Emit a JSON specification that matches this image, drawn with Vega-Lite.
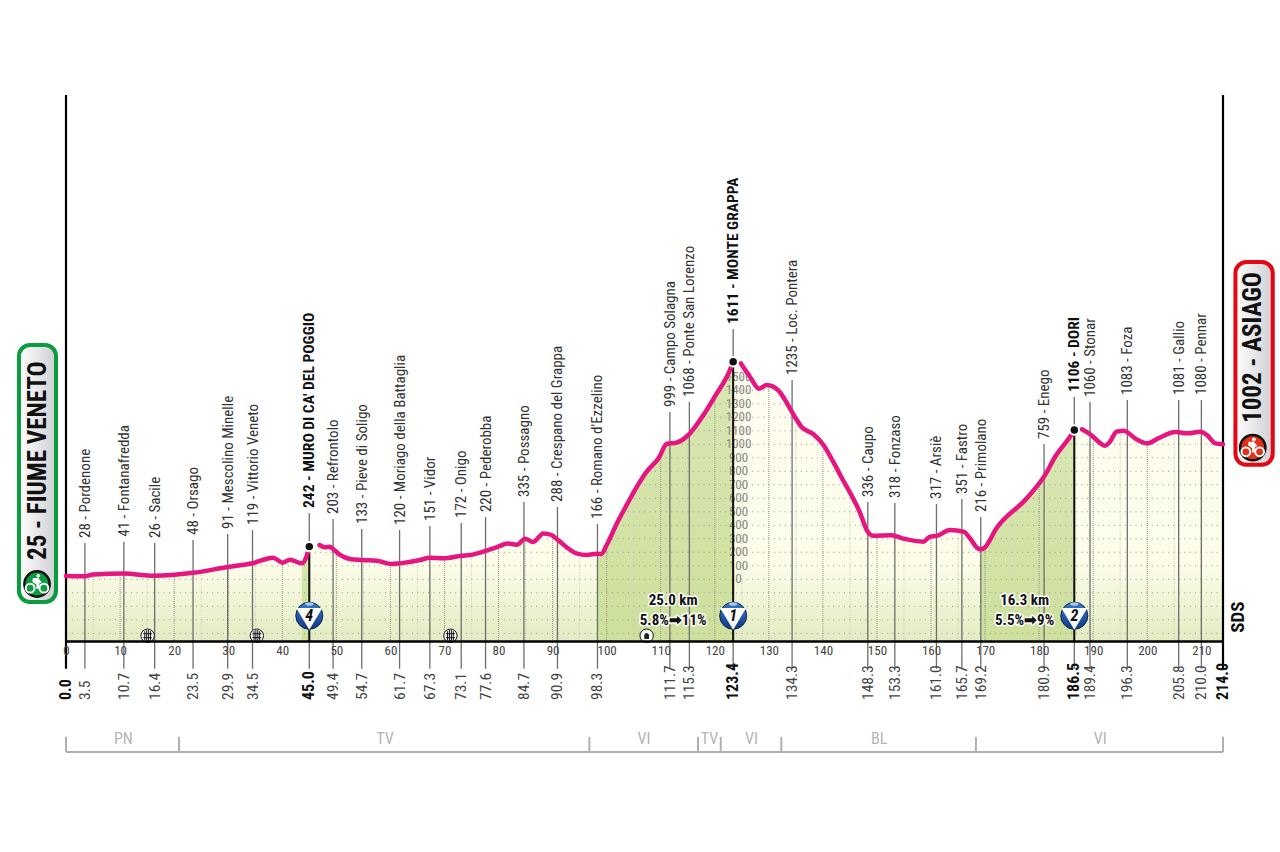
{
"$schema":"https://vega.github.io/schema/vega-lite/v6.json",
"width":1157,"height":546,
"autosize":{"type":"none"},
"padding":{"left":66,"top":95,"right":57,"bottom":211},
"background":"white",
"config":{"view":{"stroke":null},"font":"'Roboto Condensed','Open Sans Condensed',Lato,sans-serif","text":{"font":"'Roboto Condensed','Open Sans Condensed',Lato,sans-serif"}},
"datasets":{
"profile":[
{"km":0,"elev":24,"seg":1},{"km":3.5,"elev":22,"seg":1},{"km":5,"elev":36,"seg":1},{"km":10.7,"elev":43,"seg":1},{"km":16.4,"elev":26,"seg":1},{"km":23.5,"elev":48,"seg":1},{"km":29.9,"elev":91,"seg":1},{"km":34.5,"elev":119,"seg":1},{"km":38.3,"elev":160,"seg":1},{"km":40.1,"elev":123,"seg":1},{"km":41.4,"elev":145,"seg":1},{"km":43.6,"elev":118,"seg":1,"climb":"muro"},{"km":44.4,"elev":160,"seg":1,"climb":"muro"},{"km":45,"elev":242,"seg":1,"climb":"muro"},
{"km":46.9,"elev":254,"seg":2},{"km":47.9,"elev":237,"seg":2},{"km":48.8,"elev":241,"seg":2},{"km":49.4,"elev":224,"seg":2},{"km":50.7,"elev":180,"seg":2},{"km":52.5,"elev":150,"seg":2},{"km":54.7,"elev":143,"seg":2},{"km":57.5,"elev":138,"seg":2},{"km":60.2,"elev":113,"seg":2},{"km":61.7,"elev":118,"seg":2},{"km":65.5,"elev":143,"seg":2},{"km":67.3,"elev":160,"seg":2},{"km":69.8,"elev":155,"seg":2},{"km":73.1,"elev":175,"seg":2},{"km":74.7,"elev":180,"seg":2},{"km":77.6,"elev":210,"seg":2},{"km":80.3,"elev":247,"seg":2},{"km":81.6,"elev":266,"seg":2},{"km":83.4,"elev":256,"seg":2},{"km":84.9,"elev":301,"seg":2},{"km":86.4,"elev":276,"seg":2},{"km":88.3,"elev":340,"seg":2},{"km":89.8,"elev":328,"seg":2},{"km":91,"elev":291,"seg":2},{"km":92.6,"elev":237,"seg":2},{"km":94.4,"elev":192,"seg":2},{"km":96.3,"elev":180,"seg":2},{"km":98.3,"elev":190,"seg":2,"climb":"grappa"},{"km":99,"elev":187,"seg":2,"climb":"grappa"},{"km":100,"elev":254,"seg":2,"climb":"grappa"},{"km":101.9,"elev":415,"seg":2,"climb":"grappa"},{"km":103.7,"elev":550,"seg":2,"climb":"grappa"},{"km":105.6,"elev":686,"seg":2,"climb":"grappa"},{"km":107.4,"elev":797,"seg":2,"climb":"grappa"},{"km":109.6,"elev":896,"seg":2,"climb":"grappa"},{"km":111.1,"elev":1002,"seg":2,"climb":"grappa"},{"km":112.9,"elev":1012,"seg":2,"climb":"grappa"},{"km":115.4,"elev":1081,"seg":2,"climb":"grappa"},{"km":117.9,"elev":1217,"seg":2,"climb":"grappa"},{"km":120,"elev":1353,"seg":2,"climb":"grappa"},{"km":122.8,"elev":1550,"seg":2,"climb":"grappa"},{"km":123.4,"elev":1611,"seg":2,"climb":"grappa"},
{"km":124.8,"elev":1600,"seg":3},{"km":126.5,"elev":1500,"seg":3},{"km":128.2,"elev":1412,"seg":3},{"km":129.6,"elev":1439,"seg":3},{"km":131.8,"elev":1397,"seg":3},{"km":133,"elev":1328,"seg":3},{"km":134.6,"elev":1217,"seg":3},{"km":136.1,"elev":1126,"seg":3},{"km":138.2,"elev":1076,"seg":3},{"km":140.1,"elev":995,"seg":3},{"km":141.9,"elev":871,"seg":3},{"km":143.2,"elev":773,"seg":3},{"km":146.9,"elev":489,"seg":3},{"km":148.1,"elev":365,"seg":3},{"km":149.3,"elev":323,"seg":3},{"km":152.7,"elev":326,"seg":3},{"km":154.9,"elev":301,"seg":3},{"km":158.6,"elev":279,"seg":3},{"km":159.8,"elev":316,"seg":3},{"km":161.2,"elev":323,"seg":3},{"km":163.5,"elev":365,"seg":3},{"km":166,"elev":353,"seg":3},{"km":167.2,"elev":304,"seg":3},{"km":168.6,"elev":230,"seg":3},{"km":169.2,"elev":222,"seg":3,"climb":"dori"},{"km":169.9,"elev":235,"seg":3,"climb":"dori"},{"km":172.1,"elev":378,"seg":3,"climb":"dori"},{"km":177.7,"elev":600,"seg":3,"climb":"dori"},{"km":181.1,"elev":773,"seg":3,"climb":"dori"},{"km":182.9,"elev":904,"seg":3,"climb":"dori"},{"km":185.7,"elev":1056,"seg":3,"climb":"dori"},{"km":186.5,"elev":1106,"seg":3,"climb":"dori"},
{"km":187.9,"elev":1111,"seg":4},{"km":189.4,"elev":1076,"seg":4},{"km":192.2,"elev":990,"seg":4},{"km":193.1,"elev":1019,"seg":4},{"km":194.3,"elev":1093,"seg":4},{"km":195.6,"elev":1100,"seg":4},{"km":198,"elev":1037,"seg":4},{"km":200,"elev":1007,"seg":4},{"km":202,"elev":1044,"seg":4},{"km":205.2,"elev":1091,"seg":4},{"km":207.6,"elev":1081,"seg":4},{"km":209.8,"elev":1093,"seg":4},{"km":211,"elev":1069,"seg":4},{"km":212.6,"elev":1007,"seg":4},{"km":214,"elev":1000,"seg":4}
],
"towns":[
{"km":3.5,"label":"28 - Pordenone","top":269,"summit":false},
{"km":10.7,"label":"41 - Fontanafredda","top":279,"summit":false},
{"km":16.4,"label":"26 - Sacile","top":269,"summit":false},
{"km":23.5,"label":"48 - Orsago","top":291,"summit":false},
{"km":29.9,"label":"91 - Mescolino Minelle","top":336,"summit":false},
{"km":34.5,"label":"119 - Vittorio Veneto","top":365,"summit":false},
{"km":45.0,"label":"242 - MURO DI CA' DEL POGGIO","top":491,"summit":true,"alt":242},
{"km":49.4,"label":"203 - Refrontolo","top":447,"summit":false},
{"km":54.7,"label":"133 - Pieve di Soligo","top":373,"summit":false},
{"km":61.7,"label":"120 - Moriago della Battaglia","top":365,"summit":false},
{"km":67.3,"label":"151 - Vidor","top":395,"summit":false},
{"km":73.1,"label":"172 - Onigo","top":417,"summit":false},
{"km":77.6,"label":"220 - Pederobba","top":461,"summit":false},
{"km":84.7,"label":"335 - Possagno","top":573,"summit":false},
{"km":90.9,"label":"288 - Crespano del Grappa","top":536,"summit":false},
{"km":98.3,"label":"166 - Romano d'Ezzelino","top":410,"summit":false},
{"km":111.7,"label":"999 - Campo Solagna","top":1239,"summit":false},
{"km":115.3,"label":"1068 - Ponte San Lorenzo","top":1313,"summit":false},
{"km":123.4,"label":"1611 - MONTE GRAPPA","top":1854,"summit":true,"alt":1611},
{"km":134.3,"label":"1235 - Loc. Pontera","top":1476,"summit":false},
{"km":148.3,"label":"336 - Caupo","top":573,"summit":false},
{"km":153.3,"label":"318 - Fonzaso","top":565,"summit":false},
{"km":161.0,"label":"317 - Arsiè","top":558,"summit":false},
{"km":165.7,"label":"351 - Fastro","top":595,"summit":false},
{"km":169.2,"label":"216 - Primolano","top":461,"summit":false},
{"km":180.9,"label":"759 - Enego","top":1002,"summit":false},
{"km":186.5,"label":"1106 - DORI","top":1350,"summit":true,"alt":1106},
{"km":189.4,"label":"1060 - Stonar","top":1313,"summit":false},
{"km":196.3,"label":"1083 - Foza","top":1328,"summit":false},
{"km":205.8,"label":"1081 - Gallio","top":1328,"summit":false},
{"km":210.0,"label":"1080 - Pennar","top":1328,"summit":false}
],
"ends":[{"km":0},{"km":214}],
"levels":[{"v":-400},{"v":-300},{"v":-200},{"v":-100},{"v":0},{"v":100},{"v":200},{"v":300},{"v":400},{"v":500},{"v":600},{"v":700},{"v":800},{"v":900},{"v":1000},{"v":1100},{"v":1200},{"v":1300},{"v":1400},{"v":1500},{"v":1600}],
"tens":[{"k":10},{"k":20},{"k":30},{"k":40},{"k":50},{"k":60},{"k":70},{"k":80},{"k":90},{"k":100},{"k":110},{"k":120},{"k":130},{"k":140},{"k":150},{"k":160},{"k":170},{"k":180},{"k":190},{"k":200},{"k":210}],
"fives":[{"k":5},{"k":15},{"k":25},{"k":35},{"k":45},{"k":55},{"k":65},{"k":75},{"k":85},{"k":95},{"k":105},{"k":115},{"k":125},{"k":135},{"k":145},{"k":155},{"k":165},{"k":175},{"k":185},{"k":195},{"k":205}],
"provinces":[
{"from":0,"to":20.9,"mid":10.6,"code":"PN"},
{"from":20.9,"to":96.8,"mid":59,"code":"TV"},
{"from":96.8,"to":116.9,"mid":106.9,"code":"VI"},
{"from":116.9,"to":121.1,"mid":119,"code":"TV"},
{"from":121.1,"to":132.3,"mid":126.8,"code":"VI"},
{"from":132.3,"to":168.3,"mid":150.4,"code":"BL"},
{"from":168.3,"to":214,"mid":191.3,"code":"VI"}
],
"badges":[{"km":45,"cat":"4"},{"km":123.4,"cat":"1"},{"km":186.5,"cat":"2"}],
"climbtext":[{"km":112.3,"len":"25.0 km","grad":"5.8%➡11%"},{"km":177.3,"len":"16.3 km","grad":"5.5%➡9%"}],
"crossings":[{"km":15.1},{"km":35.3},{"km":71.1}],
"tunnels":[{"km":107.4}],
"start":[{"label":"25 - FIUME VENETO"}],
"finish":[{"label":"1002 - ASIAGO"}]
},
"layer":[
{"data":{"name":"profile"},"mark":{"type":"area","interpolate":"monotone","fill":{"x1":0,"y1":0,"x2":0,"y2":1,"gradient":"linear","stops":[{"offset":0,"color":"#fefdf1"},{"offset":0.72,"color":"#fdfdea"},{"offset":1,"color":"#e2ecc2"}]}},
 "encoding":{"x":{"field":"km","type":"quantitative","scale":{"domain":[0,214],"nice":false,"zero":false},
   "axis":{"values":[0,10,20,30,40,50,60,70,80,90,100,110,120,130,140,150,160,170,180,190,200,210],"title":null,"grid":false,"ticks":false,"domainColor":"#000","domainWidth":2.5,"labelFontSize":13,"labelColor":"#444","labelPadding":3,"labelOverlap":false,"labelFlush":false,"zindex":1}},
  "y":{"field":"elev","type":"quantitative","scale":{"domain":[-457,3587],"nice":false,"zero":false},"axis":null},
  "y2":{"datum":-457}}},
{"data":{"name":"profile"},"transform":[{"filter":"datum.climb"}],"mark":{"type":"area","interpolate":"monotone","fill":{"x1":0,"y1":0,"x2":0,"y2":1,"gradient":"linear","stops":[{"offset":0,"color":"#dae7b4"},{"offset":1,"color":"#cde09c"}]}},
 "encoding":{"x":{"field":"km","type":"quantitative"},"y":{"field":"elev","type":"quantitative"},"y2":{"datum":-457},"detail":{"field":"climb"}}},
{"data":{"name":"fives"},"mark":{"type":"rule","color":"#d5d5c4","strokeWidth":1,"strokeDash":[1,1]},"encoding":{"x":{"field":"k","type":"quantitative"}}},
{"data":{"name":"tens"},"mark":{"type":"rule","color":"#97978c","strokeWidth":1,"strokeDash":[1,1]},"encoding":{"x":{"field":"k","type":"quantitative"}}},
{"data":{"name":"levels"},"mark":{"type":"rule","color":"#97978c","strokeWidth":1,"strokeDash":[1,4.4]},"encoding":{"y":{"field":"v","type":"quantitative"}}},
{"data":{"name":"profile"},"mark":{"type":"area","interpolate":"monotone","fill":"white"},
 "encoding":{"x":{"field":"km","type":"quantitative"},"y":{"field":"elev","type":"quantitative"},"y2":{"datum":3587}}},
{"data":{"name":"levels"},"transform":[{"filter":"datum.v>=0 && datum.v<=1500"}],"mark":{"type":"text","fontSize":13,"color":"#8a8a80","align":"center","baseline":"middle"},
 "encoding":{"x":{"datum":124.4},"y":{"field":"v","type":"quantitative"},"text":{"field":"v","type":"quantitative"}}},
{"data":{"name":"towns"},"mark":{"type":"rule","color":"#6e6e6e","strokeWidth":1.3},
 "encoding":{"x":{"field":"km","type":"quantitative"},"y":{"field":"top","type":"quantitative"},"y2":{"datum":-663}}},
{"data":{"name":"towns"},"transform":[{"filter":"datum.summit"}],"mark":{"type":"rule","color":"#111","strokeWidth":2},
 "encoding":{"x":{"field":"km","type":"quantitative"},"y":{"field":"alt","type":"quantitative"},"y2":{"datum":-457}}},
{"data":{"name":"ends"},"mark":{"type":"rule","color":"#000","strokeWidth":2.2},
 "encoding":{"x":{"field":"km","type":"quantitative"},"y":{"datum":3587},"y2":{"datum":-663}}},
{"data":{"name":"profile"},"mark":{"type":"line","interpolate":"monotone","color":"#e6157f","strokeWidth":4.5,"strokeCap":"round"},
 "encoding":{"x":{"field":"km","type":"quantitative"},"y":{"field":"elev","type":"quantitative"},"detail":{"field":"seg"}}},
{"data":{"name":"towns"},"transform":[{"filter":"datum.summit"}],"mark":{"type":"point","shape":"circle","filled":true,"fill":"#111","stroke":"white","strokeWidth":2,"opacity":1,"size":90},
 "encoding":{"x":{"field":"km","type":"quantitative"},"y":{"field":"alt","type":"quantitative"}}},
{"data":{"name":"towns"},"transform":[{"filter":"!datum.summit"}],"mark":{"type":"text","angle":270,"align":"left","baseline":"middle","dx":5,"fontSize":15,"color":"#333"},
 "encoding":{"x":{"field":"km","type":"quantitative"},"y":{"field":"top","type":"quantitative"},"text":{"field":"label"}}},
{"data":{"name":"towns"},"transform":[{"filter":"datum.summit"}],"mark":{"type":"text","angle":270,"align":"left","baseline":"middle","dx":5,"fontSize":15.5,"fontWeight":"bold","color":"#111"},
 "encoding":{"x":{"field":"km","type":"quantitative"},"y":{"field":"top","type":"quantitative"},"text":{"field":"label"}}},
{"data":{"name":"towns"},"transform":[{"filter":"!datum.summit"}],"mark":{"type":"text","angle":270,"align":"left","baseline":"middle","fontSize":15.5,"color":"#444"},
 "encoding":{"x":{"field":"km","type":"quantitative"},"y":{"datum":-894},"text":{"field":"km","type":"quantitative","format":".1f"}}},
{"data":{"name":"towns"},"transform":[{"filter":"datum.summit"}],"mark":{"type":"text","angle":270,"align":"left","baseline":"middle","fontSize":16,"fontWeight":"bold","color":"#111"},
 "encoding":{"x":{"field":"km","type":"quantitative"},"y":{"datum":-894},"text":{"field":"km","type":"quantitative","format":".1f"}}},
{"data":{"name":"ends"},"mark":{"type":"text","angle":270,"align":"left","baseline":"middle","fontSize":16,"fontWeight":"bold","color":"#111"},
 "encoding":{"x":{"field":"km","type":"quantitative"},"y":{"datum":-894},"text":{"field":"km","type":"quantitative","format":".1f"}}},
{"data":{"name":"crossings"},"mark":{"type":"point","shape":"circle","filled":true,"fill":"white","stroke":"#111","strokeWidth":1,"opacity":1,"size":180},
 "encoding":{"x":{"field":"km","type":"quantitative"},"y":{"datum":-418}}},
{"data":{"name":"crossings"},"mark":{"type":"point","shape":"M-0.5,-0.8V0.8M-0.17,-1V1M0.17,-1V1M0.5,-0.8V0.8M-0.8,-0.35H0.8M-0.8,0.35H0.8","filled":false,"stroke":"#111","strokeWidth":1,"opacity":1,"size":130},
 "encoding":{"x":{"field":"km","type":"quantitative"},"y":{"datum":-418}}},
{"data":{"name":"tunnels"},"mark":{"type":"point","shape":"circle","filled":true,"fill":"white","stroke":"#111","strokeWidth":1,"opacity":1,"size":180},
 "encoding":{"x":{"field":"km","type":"quantitative"},"y":{"datum":-418}}},
{"data":{"name":"tunnels"},"mark":{"type":"point","shape":"M-0.5,0.7V-0.1A0.5,0.5 0 0 1 0.5,-0.1V0.7Z","filled":true,"fill":"#222","stroke":null,"opacity":1,"size":90},
 "encoding":{"x":{"field":"km","type":"quantitative"},"y":{"datum":-418}}},
{"data":{"name":"badges"},"mark":{"type":"point","shape":"circle","filled":true,"opacity":1,"stroke":"#0a2350","strokeWidth":1,"size":730,"fill":{"x1":0,"y1":0,"x2":0,"y2":1,"gradient":"linear","stops":[{"offset":0,"color":"#3a79c8"},{"offset":1,"color":"#123a86"}]}},
 "encoding":{"x":{"field":"km","type":"quantitative"},"y":{"datum":-270}}},
{"data":{"name":"badges"},"mark":{"type":"point","shape":"M-1,-0.6L1,-0.6L0,1.08Z","filled":true,"fill":"white","stroke":null,"opacity":1,"size":676},
 "encoding":{"x":{"field":"km","type":"quantitative"},"y":{"datum":-270}}},
{"data":{"name":"badges"},"mark":{"type":"point","shape":"M-1,0A1,0.4 0 1,1 1,0A1,0.4 0 1,1 -1,0Z","filled":true,"fill":"#a8cdf0","stroke":null,"opacity":1,"size":70},
 "encoding":{"x":{"field":"km","type":"quantitative"},"y":{"datum":-183}}},
{"data":{"name":"badges"},"mark":{"type":"text","fontSize":16,"fontWeight":"bold","fontStyle":"italic","color":"#111","align":"center","baseline":"middle"},
 "encoding":{"x":{"field":"km","type":"quantitative"},"y":{"datum":-275},"text":{"field":"cat"}}},
{"data":{"name":"climbtext"},"mark":{"type":"text","fontSize":15,"fontWeight":"bold","color":"white","stroke":"white","strokeWidth":3,"strokeJoin":"round","align":"center","baseline":"middle"},
 "encoding":{"x":{"field":"km","type":"quantitative"},"y":{"datum":-157},"text":{"field":"len"}}},
{"data":{"name":"climbtext"},"mark":{"type":"text","fontSize":15,"fontWeight":"bold","color":"white","stroke":"white","strokeWidth":3,"strokeJoin":"round","align":"center","baseline":"middle"},
 "encoding":{"x":{"field":"km","type":"quantitative"},"y":{"datum":-302},"text":{"field":"grad"}}},
{"data":{"name":"climbtext"},"mark":{"type":"text","fontSize":15,"fontWeight":"bold","color":"#111","align":"center","baseline":"middle"},
 "encoding":{"x":{"field":"km","type":"quantitative"},"y":{"datum":-157},"text":{"field":"len"}}},
{"data":{"name":"climbtext"},"mark":{"type":"text","fontSize":15,"fontWeight":"bold","color":"#111","align":"center","baseline":"middle"},
 "encoding":{"x":{"field":"km","type":"quantitative"},"y":{"datum":-302},"text":{"field":"grad"}}},
{"data":{"name":"provinces"},"mark":{"type":"rule","color":"#b0b0b0","strokeWidth":2},
 "encoding":{"x":{"field":"from","type":"quantitative"},"x2":{"field":"to"},"y":{"datum":-1279}}},
{"data":{"name":"provinces"},"mark":{"type":"rule","color":"#b0b0b0","strokeWidth":2},
 "encoding":{"x":{"field":"from","type":"quantitative"},"y":{"datum":-1279},"y2":{"datum":-1167}}},
{"data":{"name":"ends"},"transform":[{"filter":"datum.km>0"}],"mark":{"type":"rule","color":"#b0b0b0","strokeWidth":2},
 "encoding":{"x":{"field":"km","type":"quantitative"},"y":{"datum":-1279},"y2":{"datum":-1167}}},
{"data":{"name":"provinces"},"mark":{"type":"text","fontSize":16,"color":"#b4b4b4","align":"center","baseline":"middle"},
 "encoding":{"x":{"field":"mid","type":"quantitative"},"y":{"datum":-1183},"text":{"field":"code"}}},
{"data":{"name":"start"},"mark":{"type":"rect","cornerRadius":11,"stroke":"#0a9c3e","strokeWidth":4,"fill":{"x1":0,"y1":0,"x2":1,"y2":0,"gradient":"linear","stops":[{"offset":0,"color":"#ffffff"},{"offset":1,"color":"#cfcfd4"}]}},
 "encoding":{"x":{"datum":-8.7},"x2":{"datum":-1.85},"y":{"datum":1735},"y2":{"datum":-168}}},
{"data":{"name":"start"},"mark":{"type":"text","angle":270,"align":"left","baseline":"middle","fontSize":25,"fontWeight":"bold","color":"#111"},
 "encoding":{"x":{"datum":-5.27},"y":{"datum":143},"text":{"field":"label"}}},
{"data":{"name":"start"},"mark":{"type":"point","shape":"circle","filled":true,"fill":"#0a9c3e","stroke":"#111","strokeWidth":2.5,"opacity":1,"size":640},
 "encoding":{"x":{"datum":-5.36},"y":{"datum":-35}}},
{"data":{"name":"start"},"mark":{"type":"point","shape":"M-0.95,0.35A0.37,0.37 0 1,1 -0.21,0.35A0.37,0.37 0 1,1 -0.95,0.35ZM0.21,0.35A0.37,0.37 0 1,1 0.95,0.35A0.37,0.37 0 1,1 0.21,0.35Z","filled":false,"stroke":"white","strokeWidth":2,"opacity":1,"size":560},
 "encoding":{"x":{"datum":-5.36},"y":{"datum":-35}}},
{"data":{"name":"start"},"mark":{"type":"point","shape":"M0.1,-0.85A0.16,0.16 0 1,1 0.1,-0.53A0.16,0.16 0 1,1 0.1,-0.85ZM-0.35,-0.5L0.1,-0.5L0.4,-0.15L0.2,-0.05L0.15,0.4L-0.05,0.4L-0.05,0.05L-0.4,-0.2Z","filled":true,"fill":"white","stroke":null,"opacity":1,"size":560},
 "encoding":{"x":{"datum":-5.36},"y":{"datum":-35}}},
{"data":{"name":"finish"},"mark":{"type":"rect","cornerRadius":11,"stroke":"#e30613","strokeWidth":4,"fill":{"x1":0,"y1":0,"x2":1,"y2":0,"gradient":"linear","stops":[{"offset":0,"color":"#ffffff"},{"offset":1,"color":"#cfcfd4"}]}},
 "encoding":{"x":{"datum":216.3},"x2":{"datum":223.2},"y":{"datum":2350},"y2":{"datum":848}}},
{"data":{"name":"finish"},"mark":{"type":"text","angle":270,"align":"left","baseline":"middle","fontSize":25,"fontWeight":"bold","color":"#111"},
 "encoding":{"x":{"datum":219.6},"y":{"datum":1158},"text":{"field":"label"}}},
{"data":{"name":"finish"},"mark":{"type":"point","shape":"circle","filled":true,"fill":"#e2301a","stroke":"#111","strokeWidth":2.5,"opacity":1,"size":640},
 "encoding":{"x":{"datum":219.5},"y":{"datum":975}}},
{"data":{"name":"finish"},"mark":{"type":"point","shape":"M-0.95,0.35A0.37,0.37 0 1,1 -0.21,0.35A0.37,0.37 0 1,1 -0.95,0.35ZM0.21,0.35A0.37,0.37 0 1,1 0.95,0.35A0.37,0.37 0 1,1 0.21,0.35Z","filled":false,"stroke":"white","strokeWidth":2,"opacity":1,"size":560},
 "encoding":{"x":{"datum":219.5},"y":{"datum":975}}},
{"data":{"name":"finish"},"mark":{"type":"point","shape":"M0.1,-0.85A0.16,0.16 0 1,1 0.1,-0.53A0.16,0.16 0 1,1 0.1,-0.85ZM-0.35,-0.5L0.1,-0.5L0.4,-0.15L0.2,-0.05L0.15,0.4L-0.05,0.4L-0.05,0.05L-0.4,-0.2Z","filled":true,"fill":"white","stroke":null,"opacity":1,"size":560},
 "encoding":{"x":{"datum":219.5},"y":{"datum":975}}},
{"data":{"name":"finish"},"mark":{"type":"text","angle":270,"align":"center","baseline":"middle","fontSize":19,"fontWeight":"bold","color":"#111","text":"SDS"},
 "encoding":{"x":{"datum":216.8},"y":{"datum":-280}}}
]
}
